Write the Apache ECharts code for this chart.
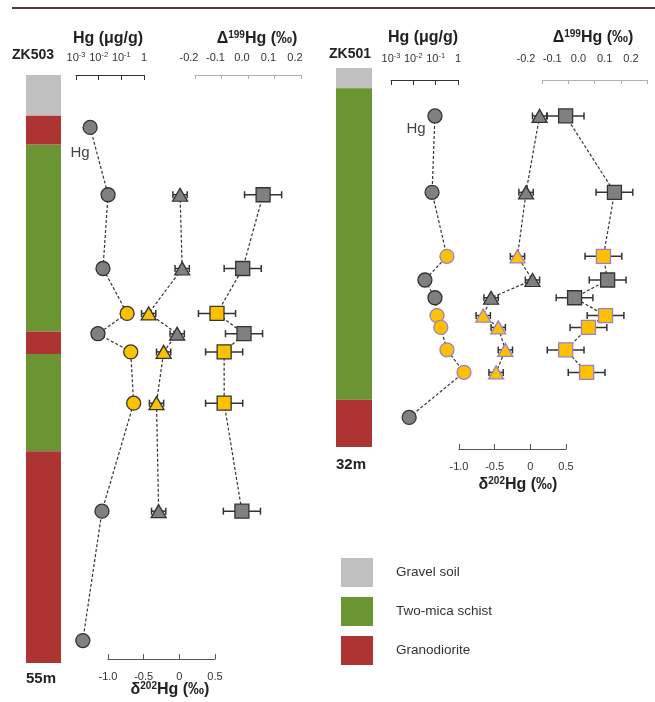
<!DOCTYPE html>
<html>
<head>
<meta charset="utf-8">
<script src="https://cdn.jsdelivr.net/npm/echarts@6.0.0/dist/echarts.min.js"></script>
<style>
  html, body { margin: 0; padding: 0; background: #fff; }
  #chart { width: 655px; height: 702px; }
</style>
</head>
<body>
<div id="chart"></div>
<script>
// ---- Lithology classes ----
const GRAVEL = 'Gravel soil', SCHIST = 'Two-mica schist', GRANO = 'Granodiorite';
const lithoNames = [GRAVEL, SCHIST, GRANO];
const lithoColors = ['#c0c0c0', '#6b9533', '#ae3434'];

// ---- Borehole ZK503 (depth in m) ----
const zk503Depth = 55;
const zk503LayerTop  = [0, 3.8, 6.5, 24.0, 26.1, 35.2];
const zk503LayerBase = [3.8, 6.5, 24.0, 26.1, 35.2, 55];
const zk503LayerType = [GRAVEL, GRANO, SCHIST, GRANO, SCHIST, GRANO];
const zk503HgDepth = [4.9, 11.2, 18.1, 22.3, 24.2, 25.9, 30.7, 40.8, 52.9];
const zk503Hg      = [0.0042, 0.026, 0.0155, 0.18, 0.0093, 0.26, 0.35, 0.014, 0.002];
const zk503HgOre   = [0, 0, 0, 1, 0, 1, 1, 0, 0];
const zk503IsoDepth = [11.2, 18.1, 22.3, 24.2, 25.9, 30.7, 40.8];
const zk503D202     = [0.01, 0.04, -0.43, -0.03, -0.22, -0.32, -0.29];
const zk503D199     = [0.057, -0.02, -0.117, -0.015, -0.09, -0.09, -0.023];
const zk503IsoOre   = [0, 0, 1, 0, 1, 1, 0];

// ---- Borehole ZK501 (depth in m) ----
const zk501Depth = 32;
const zk501LayerTop  = [0, 1.7, 28.0];
const zk501LayerBase = [1.7, 28.0, 32];
const zk501LayerType = [GRAVEL, SCHIST, GRANO];
const zk501HgDepth = [4.05, 10.5, 15.9, 17.9, 19.4, 20.9, 21.9, 23.8, 25.7, 29.5];
const zk501Hg      = [0.093, 0.069, 0.32, 0.033, 0.093, 0.115, 0.17, 0.32, 1.86, 0.0065];
const zk501HgOre   = [0, 0, 1, 0, 0, 1, 1, 1, 1, 0];
const zk501IsoDepth = [4.05, 10.5, 15.9, 17.9, 19.4, 20.9, 21.9, 23.8, 25.7];
const zk501D202     = [0.13, -0.06, -0.18, 0.03, -0.55, -0.66, -0.45, -0.35, -0.48];
const zk501D199     = [-0.11, 0.076, 0.034, 0.05, -0.076, 0.042, -0.023, -0.11, -0.03];
const zk501IsoOre   = [0, 0, 1, 0, 0, 1, 1, 1, 1];

// analytical uncertainty (2SD, ‰)
const err202 = 0.10;
const err199 = 0.07;

// axis tick values
const hgTicks = [0.001, 0.01, 0.1, 1];
const d202Ticks = [-1.0, -0.5, 0, 0.5];
const d199Ticks = [-0.2, -0.1, 0.0, 0.1, 0.2];

const F = "'Liberation Sans', Arial, Helvetica, sans-serif";
const INK = '#333';

function columnItem(params, api) {
  const a = api.coord([0, api.value(0)]);
  const b = api.coord([1, api.value(1)]);
  return {
    type: 'rect',
    shape: { x: a[0], y: a[1], width: b[0] - a[0], height: b[1] - a[1] },
    style: { fill: api.visual('color') }
  };
}

function errItem(params, api) {
  const a = api.coord([api.value(0), api.value(2)]);
  const b = api.coord([api.value(1), api.value(2)]);
  const h = 3.5;
  const st = { stroke: INK, lineWidth: 1.5 };
  return {
    type: 'group',
    children: [
      { type: 'line', shape: { x1: a[0], y1: a[1], x2: b[0], y2: b[1] }, style: st },
      { type: 'line', shape: { x1: a[0], y1: a[1] - h, x2: a[0], y2: a[1] + h }, style: st },
      { type: 'line', shape: { x1: b[0], y1: b[1] - h, x2: b[0], y2: b[1] + h }, style: st }
    ]
  };
}

function markers(xs, ds, ore, oreStroke) {
  return xs.map((x, i) => ({
    value: [x, ds[i]],
    itemStyle: {
      color: ore[i] ? '#ffc000' : '#808080',
      borderColor: ore[i] ? oreStroke : INK
    }
  }));
}

function pairs(xs, ds) { return xs.map((x, i) => [x, ds[i]]); }

function buildPanel(p, g0) {
  const series = [];
  lithoNames.forEach((name, k) => {
    const data = [];
    p.layerType.forEach((t, i) => { if (t === name) data.push([p.layerTop[i], p.layerBase[i]]); });
    series.push({
      type: 'custom', name, xAxisIndex: g0, yAxisIndex: g0, silent: true,
      itemStyle: { color: lithoColors[k] }, data, renderItem: columnItem, z: 1
    });
  });

  const tracks = [
    { g: g0 + 1, xs: p.hg, ds: p.hgDepth, ore: p.hgOre, symbol: 'circle', size: 14, err: 0 },
    { g: g0 + 2, xs: p.d202, ds: p.isoDepth, ore: p.isoOre, symbol: 'triangle', size: [15, 13], err: err202 },
    { g: g0 + 3, xs: p.d199, ds: p.isoDepth, ore: p.isoOre, symbol: 'rect', size: 14, err: err199 }
  ];
  tracks.forEach((t, ti) => {
    series.push({
      type: 'line', xAxisIndex: t.g, yAxisIndex: t.g, data: pairs(t.xs, t.ds),
      showSymbol: false, clip: false, silent: true, z: 2,
      lineStyle: { color: INK, width: 1.2, type: [3, 2] }
    });
    if (t.err) {
      series.push({
        type: 'custom', xAxisIndex: t.g, yAxisIndex: t.g, silent: true, z: 3, clip: false,
        data: t.xs.map((x, i) => [x - t.err, x + t.err, t.ds[i]]),
        renderItem: errItem
      });
    }
    const data = markers(t.xs, t.ds, t.ore, p.oreStroke);
    if (ti === 0) {
      data[0].label = {
        show: true, formatter: 'Hg', position: 'inside', offset: p.hgLabelOffset,
        fontSize: 15, color: '#444', fontFamily: F
      };
    }
    series.push({
      type: 'scatter', xAxisIndex: t.g, yAxisIndex: t.g, data, clip: false, z: 4,
      symbol: t.symbol, symbolSize: t.size,
      itemStyle: { borderWidth: 1.3, opacity: 1 }
    });
  });
  return series;
}

function buildAxes(p, g0) {
  const lab = { fontFamily: F, fontSize: 11, color: INK };
  const xAxes = [
    { gridIndex: g0, type: 'value', min: 0, max: 1, show: false },
    {
      gridIndex: g0 + 1, type: 'log', logBase: 10, min: hgTicks[0], max: hgTicks[hgTicks.length - 1],
      position: 'top', offset: p.topOffset,
      axisLine: { show: true, onZero: false, lineStyle: { color: INK, width: 1 } },
      axisTick: { show: true, inside: true, length: 5, lineStyle: { color: INK } },
      splitLine: { show: false }, minorTick: { show: false },
      axisLabel: {
        show: true, margin: p.topMargin, showMinLabel: true, showMaxLabel: true,
        formatter: v => {
          const e = Math.round(Math.log10(v));
          return e === 0 ? '{b|1}' : '{b|10}{s|' + e + '}';
        },
        rich: {
          b: { fontSize: 11, lineHeight: 14, color: INK, fontFamily: F },
          s: { fontSize: 7.5, lineHeight: 8, verticalAlign: 'top', color: INK, fontFamily: F }
        }
      }
    },
    {
      gridIndex: g0 + 2, type: 'value', min: d202Ticks[0], max: d202Ticks[d202Ticks.length - 1], interval: 0.5,
      position: 'bottom', offset: p.bottomOffset,
      axisLine: { show: true, onZero: false, lineStyle: { color: '#555', width: 1.2 } },
      axisTick: { show: true, inside: true, length: 5, lineStyle: { color: '#555' } },
      splitLine: { show: false },
      axisLabel: Object.assign({
        margin: p.bottomMargin, showMinLabel: true, showMaxLabel: true,
        formatter: v => (Math.abs(v) < 1e-9 ? '0' : v.toFixed(1))
      }, lab)
    },
    {
      gridIndex: g0 + 3, type: 'value', min: d199Ticks[0], max: d199Ticks[d199Ticks.length - 1], interval: 0.1,
      position: 'top', offset: p.topOffset,
      axisLine: { show: true, onZero: false, lineStyle: { color: '#b0b0b0', width: 1 } },
      axisTick: { show: true, inside: true, length: 4, lineStyle: { color: '#b0b0b0' } },
      splitLine: { show: false },
      axisLabel: Object.assign({
        margin: p.topMargin + 2, showMinLabel: true, showMaxLabel: true, hideOverlap: false,
        padding: [0, p.d199Pad, 0, 0],
        formatter: v => v.toFixed(1)
      }, lab)
    }
  ];
  const yAxes = [0, 1, 2, 3].map(k => ({
    gridIndex: g0 + k, type: 'value', min: 0, max: p.depth, inverse: true, show: false
  }));
  const grids = [
    { left: p.colLeft, width: p.colWidth },
    { left: p.hgLeft, width: p.hgWidth },
    { left: p.d202Left, width: p.d202Width },
    { left: p.d199Left, width: p.d199Width }
  ].map(g => Object.assign(g, { top: p.top, height: p.height, containLabel: false, outerBoundsMode: 'none' }));
  return { xAxes, yAxes, grids };
}

const p503 = {
  depth: zk503Depth, layerTop: zk503LayerTop, layerBase: zk503LayerBase, layerType: zk503LayerType,
  hg: zk503Hg, hgDepth: zk503HgDepth, hgOre: zk503HgOre,
  d202: zk503D202, d199: zk503D199, isoDepth: zk503IsoDepth, isoOre: zk503IsoOre,
  oreStroke: INK, hgLabelOffset: [-10, 25],
  top: 75, height: 588,
  colLeft: 26, colWidth: 35, hgLeft: 76, hgWidth: 68,
  d202Left: 108, d202Width: 107, d199Left: 195, d199Width: 106,
  topOffset: 0, topMargin: 10, bottomOffset: -4, bottomMargin: 12, d199Pad: 12
};
const p501 = {
  depth: zk501Depth, layerTop: zk501LayerTop, layerBase: zk501LayerBase, layerType: zk501LayerType,
  hg: zk501Hg, hgDepth: zk501HgDepth, hgOre: zk501HgOre,
  d202: zk501D202, d199: zk501D199, isoDepth: zk501IsoDepth, isoOre: zk501IsoOre,
  oreStroke: '#9a80c8', hgLabelOffset: [-19, 13],
  top: 68, height: 379,
  colLeft: 336, colWidth: 36, hgLeft: 391, hgWidth: 67,
  d202Left: 459, d202Width: 107, d199Left: 542, d199Width: 105,
  topOffset: -12, topMargin: 14, bottomOffset: 2, bottomMargin: 12, d199Pad: 32
};

const a503 = buildAxes(p503, 0);
const a501 = buildAxes(p501, 4);

function title(x, y, parts) {
  const rich = {
    m: { fontSize: 16, fontWeight: 'bold', lineHeight: 18, fontFamily: F, fill: '#222' },
    s: { fontSize: 10, fontWeight: 'bold', lineHeight: 10, verticalAlign: 'top', fontFamily: F, fill: '#222' }
  };
  return {
    type: 'text', x, y, silent: true,
    style: { text: parts, rich, align: 'center', verticalAlign: 'middle', fontFamily: F }
  };
}
function label(x, y, text, size) {
  return {
    type: 'text', x, y, silent: true,
    style: { text, fontFamily: F, fontSize: size, fontWeight: 'bold', fill: '#222', align: 'center', verticalAlign: 'middle' }
  };
}

const option = {
  animation: false,
  backgroundColor: '#fff',
  grid: a503.grids.concat(a501.grids),
  xAxis: a503.xAxes.concat(a501.xAxes),
  yAxis: a503.yAxes.concat(a501.yAxes),
  legend: {
    data: lithoNames, left: 336, top: 553, orient: 'vertical', icon: 'rect',
    itemWidth: 32, itemHeight: 29, itemGap: 10, selectedMode: false,
    textStyle: { fontSize: 13.5, color: INK, fontFamily: F, padding: [0, 0, 0, 18] }
  },
  graphic: [
    { type: 'rect', shape: { x: 12, y: 7, width: 643, height: 2 }, style: { fill: '#4a3a4c' }, silent: true },
    label(33, 55, 'ZK503', 14),
    label(41, 679, '55m', 15),
    title(108, 39, '{m|Hg (μg/g)}'),
    title(257, 39, '{m|Δ}{s|199}{m|Hg (‰)}'),
    title(170, 690, '{m|δ}{s|202}{m|Hg (‰)}'),
    label(350, 54, 'ZK501', 14),
    label(351, 465, '32m', 15),
    title(423, 38, '{m|Hg (μg/g)}'),
    title(593, 38, '{m|Δ}{s|199}{m|Hg (‰)}'),
    title(518, 485, '{m|δ}{s|202}{m|Hg (‰)}')
  ],
  series: buildPanel(p503, 0).concat(buildPanel(p501, 4))
};

const chart = echarts.init(document.getElementById('chart'), null, { renderer: 'canvas' });
chart.setOption(option);
</script>
</body>
</html>
